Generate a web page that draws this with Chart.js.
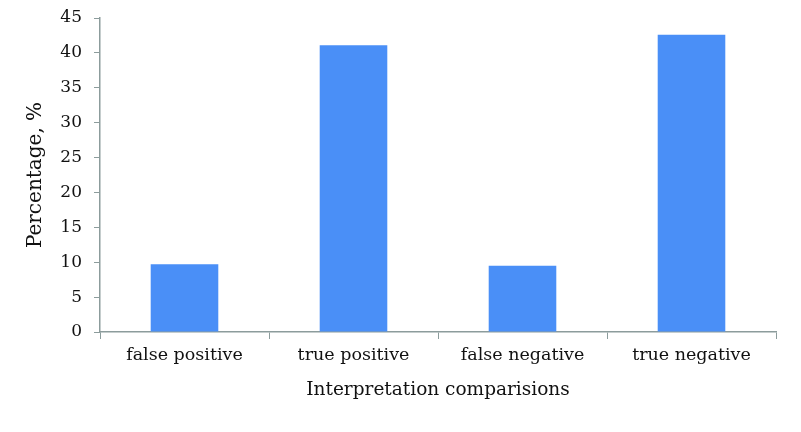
<!DOCTYPE html>
<html>
<head>
<meta charset="utf-8">
<script src="https://cdn.jsdelivr.net/npm/chart.js@4/dist/chart.umd.min.js"></script>
<style>
  html, body { margin: 0; padding: 0; background: #fff; }
  #wrap { width: 801px; height: 432px; }
</style>
</head>
<body>
<div id="wrap"><canvas id="myChart" width="801" height="432"></canvas></div>
<script>
const categories = ['false positive', 'true positive', 'false negative', 'true negative'];
const percentages = [9.7, 41.1, 9.5, 42.6];
const yTicks = [0, 5, 10, 15, 20, 25, 30, 35, 40, 45];

const axisColor = '#8c9c9c';
const serif = "'DejaVu Serif', 'Liberation Serif', serif";

const ctx = document.getElementById('myChart').getContext('2d');
const chart = new Chart(ctx, {
  type: 'bar',
  data: {
    labels: categories,
    datasets: [
      {
        label: 'Percentage',
        backgroundColor: '#4a8ff7',
        data: percentages,
        barPercentage: 0.8,
        categoryPercentage: 0.5,
      },
    ],
  },
  options: {
    responsive: false,
    animation: false,
    layout: { padding: { top: 18, right: 25, left: 0, bottom: 0 } },
    plugins: {
      legend: { display: false },
      tooltip: { enabled: false },
    },
    scales: {
      x: {
        grid: {
          drawOnChartArea: false,
          color: axisColor,
          tickLength: 7,
          offset: true,
        },
        border: { color: axisColor, width: 1.5 },
        ticks: {
          color: '#111',
          font: { family: serif, size: 17.5 },
          padding: 6,
          maxRotation: 0,
        },
        title: {
          display: true,
          text: 'Interpretation comparisions',
          color: '#111',
          font: { family: serif, size: 18.5 },
          padding: { top: 0, bottom: 31 },
        },
        afterFit(scale) { scale.height = 100; },
      },
      y: {
        min: 0,
        max: 45,
        afterBuildTicks(scale) { scale.ticks = yTicks.map(v => ({ value: v })); },
        grid: {
          drawOnChartArea: false,
          color: axisColor,
          tickLength: 6,
        },
        border: { color: axisColor, width: 1.5 },
        ticks: {
          color: '#111',
          font: { family: serif, size: 17 },
          padding: 12,
        },
        title: {
          display: true,
          text: 'Percentage, %',
          color: '#111',
          font: { family: serif, size: 20 },
          padding: { top: 24, bottom: 0 },
        },
        afterFit(scale) {
          scale.width = 100;
          scale.paddingTop = 0;
          scale.paddingBottom = 0;
        },
      },
    },
  },
});
</script>
</body>
</html>
